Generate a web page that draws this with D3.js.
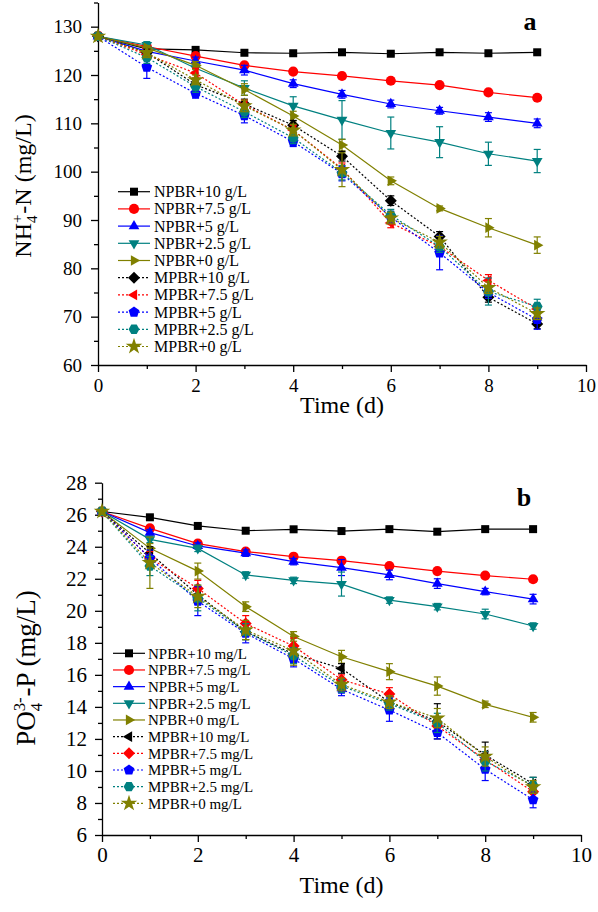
<!DOCTYPE html>
<html><head><meta charset="utf-8">
<script src="https://cdn.jsdelivr.net/npm/d3@7"></script>
<style>body{margin:0;background:#fff}svg{display:block}text{font-family:"Liberation Serif","Times New Roman",serif;fill:#000}</style>
</head><body>
<script>
// ---------- DATA ----------
const days = [0,1,2,3,4,5,6,7,8,9];
const xTicks = [0,2,4,6,8,10];

// Panel a: NH4+-N (mg/L)
const labelsA = ["NPBR+10 g/L","NPBR+7.5 g/L","NPBR+5 g/L","NPBR+2.5 g/L","NPBR+0 g/L","MPBR+10 g/L","MPBR+7.5 g/L","MPBR+5 g/L","MPBR+2.5 g/L","MPBR+0 g/L"];
const a_NPBR10  = [128,125.4,125.2,124.6,124.5,124.7,124.4,124.7,124.5,124.7];
const a_NPBR75  = [128,125.9,123.9,122.0,120.7,119.8,118.8,117.9,116.4,115.3];
const a_NPBR5   = [128,124.9,122.9,121.0,118.2,116.0,114.0,112.6,111.3,110.0];
const a_NPBR25  = [128,126.2,121.4,117.3,113.6,110.7,108.0,106.1,103.7,102.2];
const a_NPBR0   = [128,125.6,122.0,117.0,111.5,105.5,98.1,92.4,88.4,84.8];
const a_MPBR10  = [128,124.6,118.0,114.0,109.6,103.2,94.0,86.6,74.0,68.5];
const a_MPBR75  = [128,124.2,120.4,113.8,108.6,100.6,89.4,84.5,77.5,71.6];
const a_MPBR5   = [128,121.6,116.2,111.6,106.2,99.6,90.6,83.2,75.0,69.4];
const a_MPBR25  = [128,123.6,117.6,112.4,107.0,99.8,91.0,84.5,75.2,72.1];
const a_MPBR0   = [128,124.6,119.0,113.6,108.6,100.4,90.4,85.4,76.0,70.6];
const a_err_NPBR10 = [0,0.3,0.3,0.3,0.3,0.3,0.3,0.3,0.3,0.3];
const a_err_NPBR75 = [0,0.4,0.5,0.5,0.5,0.4,0.4,0.4,0.5,0.5];
const a_err_NPBR5  = [0,0.5,0.8,1.0,0.8,0.8,0.8,0.7,0.9,0.9];
const a_err_NPBR25 = [0,0.7,1.0,1.5,1.9,4.0,3.3,3.2,2.4,2.4];
const a_err_NPBR0  = [0,0.5,0.8,1.2,1.0,1.2,0.8,0.5,1.9,1.7];
const a_err_MPBR10 = [0,0.8,1.0,1.0,1.0,1.0,1.0,1.0,1.0,1.0];
const a_err_MPBR75 = [0,0.8,1.0,1.0,1.0,1.2,1.0,1.0,1.2,1.0];
const a_err_MPBR5  = [0,2.3,1.0,1.5,1.0,1.5,1.2,3.5,1.2,2.0];
const a_err_MPBR25 = [0,1.2,1.2,1.2,1.2,1.5,1.2,1.2,2.8,1.5];
const a_err_MPBR0  = [0,1.0,1.0,1.2,1.2,3.5,1.2,1.2,1.2,1.2];
const yTicksA = [60,70,80,90,100,110,120,130];

// Panel b: PO4 3- -P (mg/L)
const labelsB = ["NPBR+10 mg/L","NPBR+7.5 mg/L","NPBR+5 mg/L","NPBR+2.5 mg/L","NPBR+0 mg/L","MPBR+10 mg/L","MPBR+7.5 mg/L","MPBR+5 mg/L","MPBR+2.5 mg/L","MPBR+0 mg/L"];
const b_NPBR10  = [26.2,25.84,25.3,25.0,25.09,24.98,25.1,24.94,25.1,25.1];
const b_NPBR75  = [26.2,25.15,24.2,23.7,23.38,23.13,22.8,22.48,22.2,21.97];
const b_NPBR5   = [26.2,24.88,24.05,23.6,23.07,22.7,22.24,21.7,21.2,20.73];
const b_NPBR25  = [26.2,24.46,23.9,22.24,21.9,21.67,20.67,20.26,19.8,19.05];
const b_NPBR0   = [26.2,23.9,22.48,20.26,18.4,17.13,16.2,15.3,14.16,13.35];
const b_MPBR10  = [26.2,23.6,21.0,18.7,17.3,16.4,14.3,13.1,11.0,9.2];
const b_MPBR75  = [26.2,23.3,21.4,19.2,17.8,15.7,14.8,12.8,10.7,8.7];
const b_MPBR5   = [26.2,23.3,20.6,18.6,17.0,15.1,13.8,12.4,10.1,8.2];
const b_MPBR25  = [26.2,22.8,20.8,18.7,17.2,15.3,14.2,13.0,10.6,9.1];
const b_MPBR0   = [26.2,23.0,20.9,18.8,17.5,15.4,14.3,13.3,10.9,9.0];
const b_err_NPBR10 = [0,0.1,0.1,0.1,0.1,0.1,0.1,0.15,0.1,0.1];
const b_err_NPBR75 = [0,0.15,0.15,0.15,0.15,0.15,0.15,0.15,0.15,0.15];
const b_err_NPBR5  = [0,0.2,0.2,0.2,0.2,0.5,0.3,0.3,0.2,0.3];
const b_err_NPBR25 = [0,0.2,0.2,0.2,0.2,0.75,0.2,0.2,0.3,0.2];
const b_err_NPBR0  = [0,0.3,0.5,0.3,0.3,0.4,0.5,0.57,0.2,0.3];
const b_err_MPBR10 = [0,0.4,0.5,0.5,0.5,0.3,0.5,1.1,0.8,0.4];
const b_err_MPBR75 = [0,0.4,0.5,0.5,0.5,0.3,0.4,0.5,0.5,0.4];
const b_err_MPBR5  = [0,0.5,0.9,0.6,0.5,0.4,0.7,0.4,0.7,0.5];
const b_err_MPBR25 = [0,0.6,0.8,0.5,0.5,0.4,0.4,0.6,0.6,0.5];
const b_err_MPBR0  = [0,1.6,0.7,0.6,0.9,0.4,0.4,0.6,0.6,0.4];
const yTicksB = [6,8,10,12,14,16,18,20,22,24,26,28];

// ---------- STYLE ----------
const colors = ["#000000","#ff0000","#0000ff","#008080","#808000","#000000","#ff0000","#0000ff","#008080","#808000"];
const shapesA = ["square","circle","triUp","triDown","triRight","diamond","triLeft","pentagon","hexagon","star"];
const shapesB = ["square","circle","triUp","triDown","triRight","triLeft","diamond","pentagon","hexagon","star"];

function poly(n, r, startDeg){
  const pts=[];
  for(let i=0;i<n;i++){const a=(startDeg+i*360/n)*Math.PI/180;pts.push([r*Math.cos(a),r*Math.sin(a)]);}
  return "M"+pts.map(p=>p[0].toFixed(2)+","+p[1].toFixed(2)).join("L")+"Z";
}
function shapePath(t){
  switch(t){
    case "square": return "M-4,-4H4V4H-4Z";
    case "circle": return d3.symbol(d3.symbolCircle,80)();
    case "triUp": return poly(3,6.2,-90);
    case "triDown": return poly(3,6.2,90);
    case "triRight": return poly(3,6.2,0);
    case "triLeft": return poly(3,6.2,180);
    case "diamond": return poly(4,6,-90);
    case "pentagon": return poly(5,5.6,-90);
    case "hexagon": return poly(6,5.4,0);
    case "star": return d3.symbol(d3.symbolStar,85)();
  }
}

const W=598,H=912;
const svg=d3.select("body").append("svg").attr("width",W).attr("height",H);

function panel(cfg){
  const x=d3.scaleLinear().domain([0,10]).range(cfg.xr);
  const y=d3.scaleLinear().domain(cfg.yd).range(cfg.yr);
  const g=svg.append("g");
  // axes
  const xAxis=d3.axisBottom(x).tickValues(xTicks).tickSize(7).tickSizeOuter(0);
  const gx=g.append("g").attr("transform",`translate(0,${cfg.yr[0]})`).call(xAxis);
  g.append("g").attr("transform",`translate(0,${cfg.yr[0]})`)
    .call(d3.axisBottom(x).tickValues([1,3,5,7,9]).tickSize(4).tickFormat("").tickSizeOuter(0))
    .select(".domain").remove();
  const yAxis=d3.axisLeft(y).tickValues(cfg.yTicks).tickSize(7).tickSizeOuter(0).tickPadding(cfg.yPad);
  const gy=g.append("g").attr("transform",`translate(${cfg.xr[0]},0)`).call(yAxis);
  g.append("g").attr("transform",`translate(${cfg.xr[0]},0)`)
    .call(d3.axisLeft(y).tickValues(cfg.minorY).tickSize(4).tickFormat("").tickSizeOuter(0))
    .select(".domain").remove();
  g.selectAll(".domain,.tick line").attr("stroke","#000").attr("stroke-width",1.3);
  g.selectAll(".tick text").style("font-family",'"Liberation Serif",serif').style("font-size",cfg.tickFont+"px").attr("fill","#000");
  gx.selectAll(".tick text").attr("y",27).attr("dy",0);

  // series
  cfg.series.forEach((s,i)=>{
    const col=colors[i];
    const dashed=i>=5;
    const line=d3.line().x((d,j)=>x(days[j])).y(d=>y(d));
    g.append("path").datum(s.v).attr("d",line).attr("fill","none").attr("stroke",col)
      .attr("stroke-width",1.2).attr("stroke-dasharray",dashed?"2,2":null);
    const eg=g.append("g").attr("stroke",col).attr("stroke-width",1.2);
    s.v.forEach((v,j)=>{
      const e=s.e[j]; if(!e) return;
      const cx=x(days[j]), y1=y(v+e), y2=y(v-e);
      eg.append("line").attr("x1",cx).attr("x2",cx).attr("y1",y1).attr("y2",y2);
      eg.append("line").attr("x1",cx-3.5).attr("x2",cx+3.5).attr("y1",y1).attr("y2",y1);
      eg.append("line").attr("x1",cx-3.5).attr("x2",cx+3.5).attr("y1",y2).attr("y2",y2);
    });
    g.append("g").selectAll("path").data(s.v).join("path")
      .attr("d",shapePath(cfg.shapes[i]))
      .attr("transform",(d,j)=>`translate(${x(days[j])},${y(d)})`)
      .attr("fill",col);
  });

  // legend
  cfg.labels.forEach((lab,i)=>{
    const ly=cfg.leg.y0+cfg.leg.dy*i;
    g.append("line").attr("x1",cfg.leg.x0).attr("x2",cfg.leg.x1).attr("y1",ly).attr("y2",ly)
      .attr("stroke",colors[i]).attr("stroke-width",1.2).attr("stroke-dasharray",i>=5?"2,2":null);
    g.append("path").attr("d",shapePath(cfg.shapes[i])).attr("fill",colors[i])
      .attr("transform",`translate(${(cfg.leg.x0+cfg.leg.x1)/2},${ly})`);
    g.append("text").attr("x",cfg.leg.tx).attr("y",ly+5.5).style("font-size",cfg.leg.font+"px").text(lab);
  });

  // x title
  g.append("text").attr("x",(cfg.xr[0]+cfg.xr[1])/2).attr("y",cfg.xTitleY).attr("text-anchor","middle")
    .style("font-size","24px").text("Time (d)");
  // panel letter
  g.append("text").attr("x",cfg.letter[0]).attr("y",cfg.letter[1]).attr("text-anchor","middle")
    .style("font-size","26px").style("font-weight","bold").text(cfg.letter[2]);
  // y title
  const fs=cfg.yTitleFont;
  const yt=g.append("text").attr("transform",`translate(${cfg.yTitle[0]},${cfg.yTitle[1]}) rotate(-90)`)
    .attr("text-anchor","middle").style("font-size",fs+"px");
  const p=cfg.yTitleParts;
  yt.append("tspan").text(p[0]);
  yt.append("tspan").text(p[1]).style("font-size",(fs*0.62)+"px").attr("dy",fs*0.25);
  yt.append("tspan").text(p[2]).style("font-size",(fs*0.62)+"px").attr("dx",-fs*0.31*p[1].length).attr("dy",-fs*0.62);
  yt.append("tspan").text(p[3]).attr("dy",fs*0.37).attr("dx",1);
}

panel({
  xr:[98,586], yd:[60,135], yr:[365,2.5], yTicks:yTicksA, minorY:[65,75,85,95,105,115,125,135],
  shapes:shapesA, labels:labelsA, tickFont:19, yPad:9,
  series:[
    {v:a_NPBR10,e:a_err_NPBR10},{v:a_NPBR75,e:a_err_NPBR75},{v:a_NPBR5,e:a_err_NPBR5},
    {v:a_NPBR25,e:a_err_NPBR25},{v:a_NPBR0,e:a_err_NPBR0},{v:a_MPBR10,e:a_err_MPBR10},
    {v:a_MPBR75,e:a_err_MPBR75},{v:a_MPBR5,e:a_err_MPBR5},{v:a_MPBR25,e:a_err_MPBR25},{v:a_MPBR0,e:a_err_MPBR0}],
  leg:{x0:118,x1:150,tx:154,y0:191.7,dy:17.2,font:16},
  xTitleY:413, letter:[530,30,"a"], yTitle:[31,186], yTitleFont:24,
  yTitleParts:["NH","4","+","-N (mg/L)"]
});

panel({
  xr:[102,581], yd:[6,28], yr:[835,482.7], yTicks:yTicksB, minorY:[7,9,11,13,15,17,19,21,23,25,27],
  shapes:shapesB, labels:labelsB, tickFont:21, yPad:8,
  series:[
    {v:b_NPBR10,e:b_err_NPBR10},{v:b_NPBR75,e:b_err_NPBR75},{v:b_NPBR5,e:b_err_NPBR5},
    {v:b_NPBR25,e:b_err_NPBR25},{v:b_NPBR0,e:b_err_NPBR0},{v:b_MPBR10,e:b_err_MPBR10},
    {v:b_MPBR75,e:b_err_MPBR75},{v:b_MPBR5,e:b_err_MPBR5},{v:b_MPBR25,e:b_err_MPBR25},{v:b_MPBR0,e:b_err_MPBR0}],
  leg:{x0:113,x1:145,tx:148,y0:653.3,dy:16.67,font:15},
  xTitleY:893, letter:[524,506,"b"], yTitle:[35,668], yTitleFont:27,
  yTitleParts:["PO","4","3-","-P (mg/L)"]
});
</script>
</body></html>
